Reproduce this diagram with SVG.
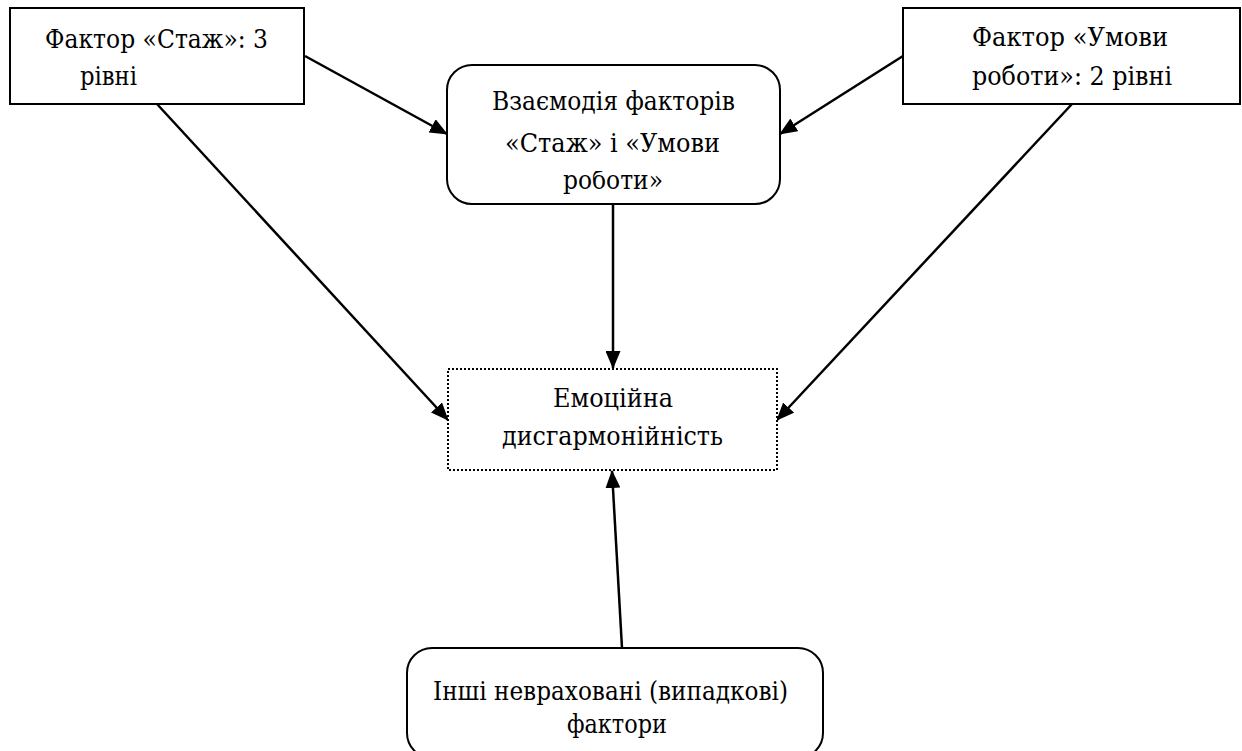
<svg xmlns="http://www.w3.org/2000/svg" width="1242" height="751" viewBox="0 0 1242 751">
<defs>
<style>
.box{fill:#fff;stroke:#000;stroke-width:2}
.dot{fill:#fff;stroke:#000;stroke-width:2;stroke-dasharray:2 2}
.t{font-family:"DejaVu Serif","Liberation Serif",serif;font-size:26px;fill:#000}
.c{stroke:#000;stroke-width:2.5;fill:none;marker-end:url(#ah)}
</style>
<marker id="ah" viewBox="0 0 18 15" refX="17" refY="7.5" markerWidth="18" markerHeight="15" markerUnits="userSpaceOnUse" orient="auto">
<path d="M0,0 L18,7.5 L0,15 z" fill="#000"/>
</marker>
<clipPath id="cp2"><rect x="447" y="171" width="333" height="32"/></clipPath>
</defs>
<g id="connectors">
<line class="c" x1="305" y1="56" x2="447" y2="134"/>
<line class="c" x1="903" y1="56" x2="780" y2="134"/>
<line class="c" x1="157" y1="104" x2="448" y2="420"/>
<line class="c" x1="1072" y1="104" x2="777" y2="420"/>
<line class="c" x1="613" y1="204" x2="613" y2="368"/>
<line class="c" x1="622" y1="648" x2="612" y2="471"/>
</g>
<g id="n1">
<rect class="box" x="10" y="8" width="294" height="96"/>
<text class="t" x="45" y="48" textLength="223" lengthAdjust="spacingAndGlyphs">Фактор «Стаж»: 3</text>
<text class="t" x="80" y="85" textLength="57" lengthAdjust="spacingAndGlyphs">рівні</text>
</g>
<g id="n2">
<rect class="box" x="447" y="65" width="333" height="139" rx="25" ry="25"/>
<text class="t" x="492" y="110" textLength="243" lengthAdjust="spacingAndGlyphs">Взаємодія факторів</text>
<text class="t" x="505" y="152" textLength="215" lengthAdjust="spacingAndGlyphs">«Стаж» і «Умови</text>
<text class="t" x="563" y="189" textLength="100" lengthAdjust="spacingAndGlyphs" clip-path="url(#cp2)">роботи»</text>
</g>
<g id="n3">
<rect class="box" x="903" y="8" width="337" height="96"/>
<text class="t" x="972" y="46" textLength="196" lengthAdjust="spacingAndGlyphs">Фактор «Умови</text>
<text class="t" x="972" y="85" textLength="200" lengthAdjust="spacingAndGlyphs">роботи»: 2 рівні</text>
</g>
<g id="n4">
<rect class="dot" x="448" y="369" width="329" height="101"/>
<text class="t" x="553" y="407" textLength="120" lengthAdjust="spacingAndGlyphs">Емоційна</text>
<text class="t" x="502" y="445" textLength="221" lengthAdjust="spacingAndGlyphs">дисгармонійність</text>
</g>
<g id="n5">
<rect class="box" x="407" y="648" width="416" height="110" rx="25" ry="25"/>
<text class="t" x="433" y="700" textLength="355" lengthAdjust="spacingAndGlyphs">Інші невраховані (випадкові)</text>
<text class="t" x="567" y="733" textLength="100" lengthAdjust="spacingAndGlyphs">фактори</text>
</g>
</svg>
